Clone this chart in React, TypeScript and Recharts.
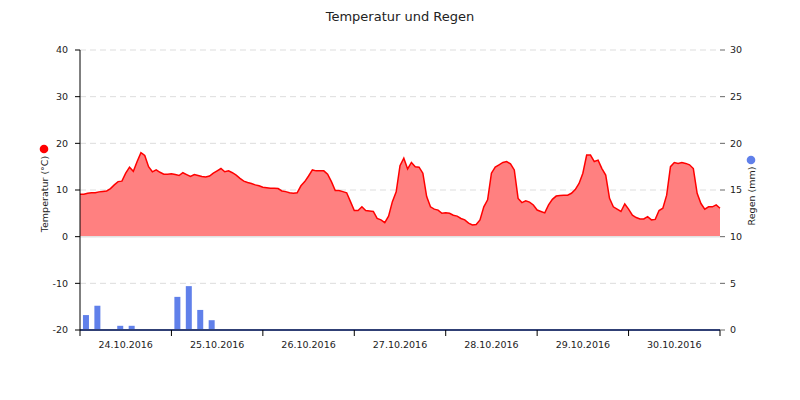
import { ComposedChart, Area, Bar, XAxis, YAxis, CartesianGrid, ReferenceLine } from 'recharts';

// Tage (Achsenbeschriftung, jeweils Tagesmitte)
const tage = ['24.10.2016', '25.10.2016', '26.10.2016', '27.10.2016', '28.10.2016', '29.10.2016', '30.10.2016'];
const tagTicks = [0, 24, 48, 72, 96, 120, 144, 168];

// Temperatur, stündlich ab 24.10.2016 00:00 (°C)
const temperatur = [
  9.1, 9.1, 9.3, 9.4, 9.4, 9.6, 9.7, 9.8, 10.3, 11.1, 11.8, 11.9, 13.6, 14.9, 14.0, 16.1, 18.0, 17.4, 15.0, 13.9, 14.3, 13.8, 13.4, 13.4,
  13.5, 13.3, 13.1, 13.7, 13.3, 12.9, 13.3, 13.1, 12.9, 12.8, 13.0, 13.6, 14.1, 14.6, 13.9, 14.1, 13.7, 13.2, 12.5, 11.9, 11.6, 11.4, 11.1, 10.9,
  10.6, 10.5, 10.4, 10.35, 10.3, 9.8, 9.65, 9.4, 9.3, 9.4, 10.9, 11.8, 13.0, 14.3, 14.1, 14.1, 14.1, 13.4, 11.8, 9.9, 9.9, 9.65, 9.4, 7.5,
  5.6, 5.6, 6.4, 5.6, 5.5, 5.4, 3.9, 3.6, 3.0, 4.4, 7.5, 9.6, 15.2, 16.8, 14.5, 15.9, 15.0, 14.9, 13.6, 8.6, 6.4, 5.9, 5.7, 5.0,
  5.1, 5.0, 4.6, 4.4, 3.9, 3.6, 2.9, 2.5, 2.6, 3.6, 6.4, 7.9, 13.6, 14.9, 15.4, 15.9, 16.1, 15.6, 14.3, 8.2, 7.3, 7.7, 7.4, 6.8,
  5.7, 5.4, 5.1, 6.8, 8.0, 8.7, 8.8, 8.9, 8.9, 9.3, 10.1, 11.4, 13.6, 17.5, 17.5, 16.1, 16.4, 14.6, 13.2, 8.2, 6.4, 5.9, 5.4, 7.0,
  5.9, 4.6, 4.1, 3.8, 3.8, 4.3, 3.6, 3.7, 5.6, 6.1, 8.9, 15.0, 15.9, 15.7, 15.9, 15.7, 15.4, 14.6, 9.3, 7.1, 5.9, 6.4, 6.4, 6.8,
  6.1,
];

// Regen, 3-Stunden-Summen (Mitte des Intervalls in Stunden, mm)
const regenZeit = [1.5, 4.5, 10.5, 13.5, 25.5, 28.5, 31.5, 34.5];
const regen = [1.6, 2.6, 0.45, 0.45, 3.55, 4.7, 2.15, 1.05];

const tempTicks = [-20, -10, 0, 10, 20, 30, 40];
const regenTicks = [0, 5, 10, 15, 20, 25, 30];

const data = [
  ...temperatur.map((t, i) => ({ h: i, temp: t })),
  ...regenZeit.map((h, i) => ({ h, regen: regen[i] })),
].sort((a, b) => a.h - b.h);

const FONT = 'DejaVu Sans';
const tickStyle = { fill: '#222', fontSize: 9.5, fontFamily: FONT };

const TagTick = (props: any) => {
  const { x, y, payload } = props;
  const i = Math.round(payload.value / 24);
  if (i >= tage.length) return <g />;
  const halfDay = 640 / 7 / 2;
  return (
    <text x={x + halfDay} y={y + 10} textAnchor="middle" {...tickStyle}>
      {tage[i]}
    </text>
  );
};

const AxisTitle = (text: string, color: string, cx: number, textShift: number, dotShift: number) => (props: any) => {
  const vb = props.viewBox || { y: 50, height: 280 };
  const mid = vb.y + vb.height / 2;
  return (
    <g>
      <circle cx={cx} cy={mid + dotShift} r={4.3} fill={color} />
      <text
        transform={`translate(${cx + 4},${mid + textShift}) rotate(-90)`}
        textAnchor="middle"
        fontSize={9.5}
        fontFamily={FONT}
        fill="#222"
      >
        {text}
      </text>
    </g>
  );
};

// Säule mit fester Breite um die von Recharts berechnete Mitte
const RegenBar = (props: any) => {
  const { x, y, width, height, fill } = props;
  if (!height || height <= 0) return <g />;
  const cx = x + width / 2;
  return <rect x={cx - 3} y={y} width={6} height={height} fill={fill} />;
};

const App = () => {
  return (
    <div style={{ position: 'absolute', left: 0, top: 0, width: 800, height: 400, background: '#fff' }}>
      <div
        style={{
          position: 'absolute',
          top: 8,
          width: 800,
          textAlign: 'center',
          fontFamily: FONT,
          fontSize: 13,
          lineHeight: '18px',
          color: '#222',
        }}
      >
        Temperatur und Regen
      </div>
      <ComposedChart width={800} height={400} data={data} margin={{ top: 50, right: 20, bottom: 40, left: 20 }}>
        <CartesianGrid yAxisId="temp" vertical={false} stroke="#ddd" strokeDasharray="6 4" />
        <XAxis
          dataKey="h"
          type="number"
          domain={[0, 168]}
          ticks={tagTicks}
          height={30}
          tickSize={6}
          tick={<TagTick />}
          axisLine={{ stroke: '#000' }}
          tickLine={{ stroke: '#000' }}
        />
        <YAxis
          yAxisId="temp"
          domain={[-20, 40]}
          ticks={tempTicks}
          width={60}
          tickSize={5}
          tickMargin={7}
          tick={tickStyle}
          axisLine={{ stroke: '#000' }}
          tickLine={{ stroke: '#000' }}
          label={{ content: AxisTitle('Temperatur (°C)', '#ff0000', 44, 4, -41) }}
        />
        <YAxis
          yAxisId="regen"
          orientation="right"
          domain={[0, 30]}
          ticks={regenTicks}
          width={60}
          tickSize={5}
          tickMargin={5}
          tick={tickStyle}
          axisLine={false}
          tickLine={{ stroke: '#666' }}
          label={{ content: AxisTitle('Regen (mm)', '#6080ea', 751, 6, -30) }}
        />
        <ReferenceLine yAxisId="temp" y={0} stroke="#e2e2e2" strokeWidth={1.5} />
        <Area
          yAxisId="temp"
          type="linear"
          dataKey="temp"
          stroke="#ff0000"
          strokeWidth={1.5}
          fill="#ff8080"
          fillOpacity={1}
          connectNulls
          isAnimationActive={false}
          dot={false}
          activeDot={false}
        />
        <Bar yAxisId="regen" dataKey="regen" fill="#6080ea" shape={<RegenBar />} isAnimationActive={false} />
        <ReferenceLine yAxisId="regen" y={0} stroke="#6080ea" strokeWidth={2} />
      </ComposedChart>
    </div>
  );
};

export default App;
